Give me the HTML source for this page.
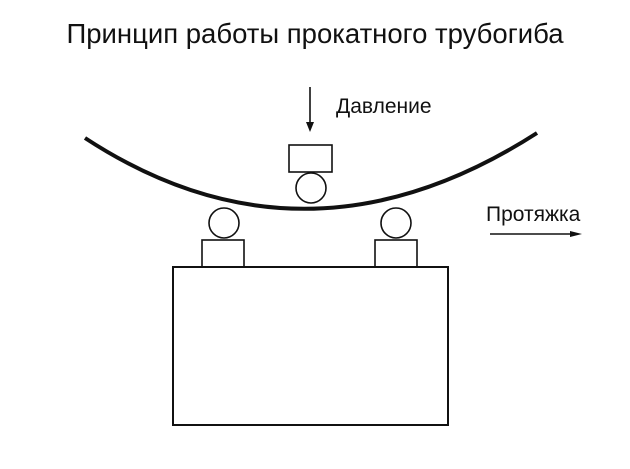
<!DOCTYPE html>
<html><head><meta charset="utf-8"><style>
html,body{margin:0;padding:0;background:#fff;}
svg{display:block;}
text{font-family:"Liberation Sans",sans-serif;fill:#111;}
</style></head><body>
<svg width="630" height="469" viewBox="0 0 630 469" xmlns="http://www.w3.org/2000/svg">
<text x="315" y="43" font-size="27.5" text-anchor="middle">Принцип работы прокатного трубогиба</text>
<g stroke="#111" fill="none" stroke-width="1.6">
<path d="M85,138 Q305,282 537,133" stroke-width="4"/>
<rect x="289" y="145" width="43" height="27"/>
<circle cx="311" cy="188" r="15"/>
<circle cx="224" cy="223" r="15"/>
<circle cx="396" cy="223" r="15"/>
<rect x="202" y="240" width="42" height="27"/>
<rect x="375" y="240" width="42" height="27"/>
<rect x="173" y="267" width="275" height="158" stroke-width="2"/>
<line x1="310" y1="87" x2="310" y2="124"/>
<line x1="490" y1="234" x2="572" y2="234"/>
</g>
<polygon points="306,122 314,122 310,132" fill="#111"/>
<polygon points="570,231 570,237 582,234" fill="#111"/>
<text x="336" y="113" font-size="21">Давление</text>
<text x="486" y="221" font-size="21">Протяжка</text>
</svg>
</body></html>
